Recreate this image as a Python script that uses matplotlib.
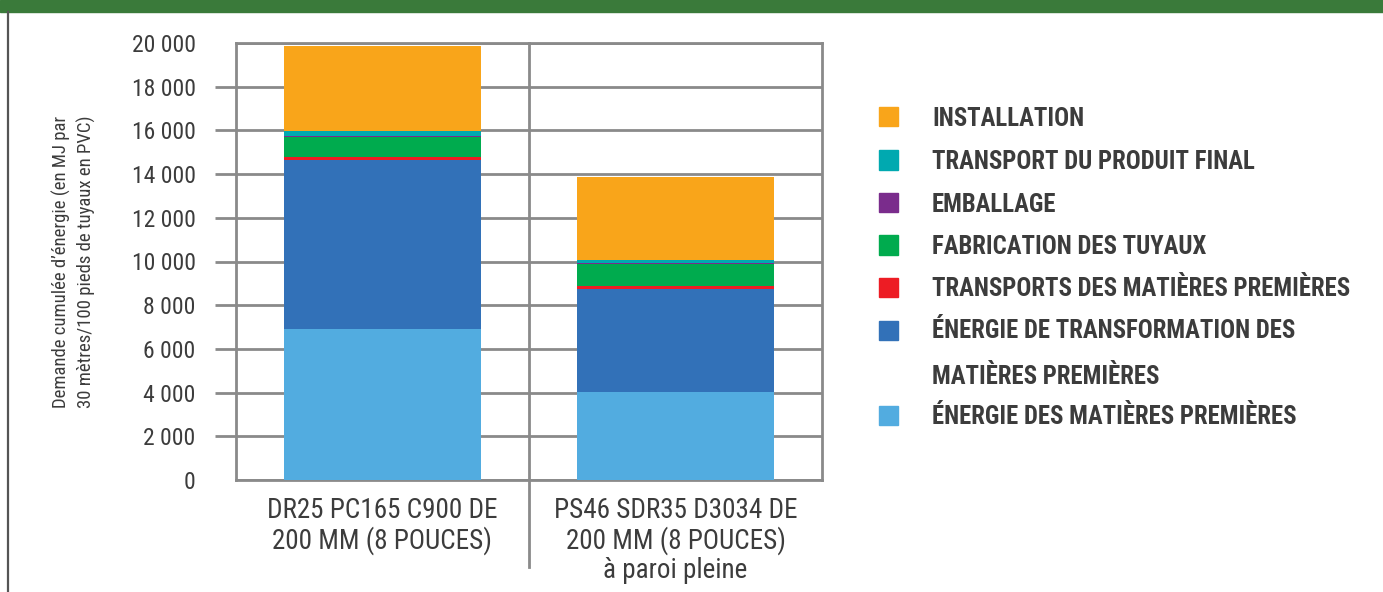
import matplotlib
matplotlib.use("Agg")
import matplotlib.pyplot as plt
from matplotlib import font_manager
from matplotlib.patches import Rectangle

# ---------------- data ----------------
categories = ["DR25 PC165 C900 DE\n200 MM (8 POUCES)",
              "PS46 SDR35 D3034 DE\n200 MM (8 POUCES)\nà paroi pleine"]
series_names = ["ÉNERGIE DES MATIÈRES PREMIÈRES",
                "ÉNERGIE DE TRANSFORMATION DES\nMATIÈRES PREMIÈRES",
                "TRANSPORTS DES MATIÈRES PREMIÈRES",
                "FABRICATION DES TUYAUX",
                "EMBALLAGE",
                "TRANSPORT DU PRODUIT FINAL",
                "INSTALLATION"]
energie_matieres = [6900, 4050]
energie_transfo = [7750, 4670]
transport_matieres = [150, 180]
fabrication = [910, 970]
emballage = [50, 40]
transport_final = [230, 140]
installation = [3870, 3800]
series_values = [energie_matieres, energie_transfo, transport_matieres,
                 fabrication, emballage, transport_final, installation]
series_colors = ["#52ACE0", "#3271B8", "#ED1C24", "#00AB4E",
                 "#7A2C8C", "#00A9B0", "#F9A51A"]
y_ticks = list(range(0, 20001, 2000))
y_tick_labels = [f"{v:,}".replace(",", " ") for v in y_ticks]
y_label = "Demande cumulée d’énergie (en MJ par\n30 mètres/100 pieds de tuyaux en PVC)"

# ---------------- fonts ----------------
avail = {f.name for f in font_manager.fontManager.ttflist}
fam = "DejaVu Sans"
for cand in ["Roboto Condensed", "Liberation Sans Narrow", "Open Sans Condensed",
             "Liberation Sans", "Roboto"]:
    if cand in avail:
        fam = cand
        break
plt.rcParams["font.family"] = [fam, "DejaVu Sans"]
TXT = "#3c3c3c"
GRID = "#8a8a8a"

W, H = 1383, 592
fig = plt.figure(figsize=(W / 100, H / 100), dpi=100)

def fx(px):
    return px / W

def fy(py):
    return 1 - py / H

# green banner and left border
fig.patches.append(Rectangle((0, fy(12)), 1, 12 / H, transform=fig.transFigure,
                             color="#3A7A3A", zorder=0))
fig.add_artist(plt.Line2D([fx(8), fx(8)], [0, fy(12)], transform=fig.transFigure,
                          color="#555555", lw=1.6))

ax = fig.add_axes([fx(236), fy(480), fx(822) - fx(236), (480 - 43) / H])
x = [0.5, 1.5]
bottom = [0, 0]
for vals, col in zip(series_values, series_colors):
    ax.bar(x, vals, width=0.67, bottom=bottom, color=col, zorder=3, linewidth=0)
    bottom = [b + v for b, v in zip(bottom, vals)]

ax.set_xlim(0, 2)
ax.set_ylim(0, 20000)
ax.set_yticks(y_ticks)
ax.set_yticklabels(y_tick_labels, fontsize=17, color=TXT)
ax.yaxis.grid(True, color=GRID, lw=2, zorder=1)
ax.set_axisbelow(True)
ax.tick_params(axis="y", length=15, width=2, color=GRID, pad=14)
ticks = ax.yaxis.get_major_ticks()
ticks[0].tick1line.set_visible(False)
ticks[-1].tick1line.set_visible(False)
for s in ax.spines.values():
    s.set_color(GRID)
    s.set_linewidth(2)
ax.axvline(1.0, ymin=-(567 - 480) / 437, ymax=1, color=GRID, lw=2,
           clip_on=False, zorder=2)

ax.set_xticks(x)
ax.set_xticklabels(categories, fontsize=19.5, color=TXT, linespacing=1.1)
ax.tick_params(axis="x", length=0, pad=12)
ax.set_ylabel(y_label, fontsize=13.5, color=TXT, labelpad=26, linespacing=1.35)

# legend (manual)
rows_y = [415, 330.7, 287, 245, 202.7, 160, 116.7]
for name, col, ry in zip(series_names, series_colors, rows_y):
    fig.patches.append(Rectangle((fx(878.5), fy(ry + 9.5)), 19 / W, 19 / H,
                                 transform=fig.transFigure, color=col))
    if "\n" in name:
        fig.text(fx(932), fy(ry - 12), name, fontsize=17.8, fontweight="bold",
                 color=TXT, ha="left", va="top", linespacing=2.2)
    else:
        fig.text(fx(932), fy(ry + 2), name, fontsize=17.8, fontweight="bold",
                 color=TXT, ha="left", va="center")

fig.savefig("out.png", dpi=100)
